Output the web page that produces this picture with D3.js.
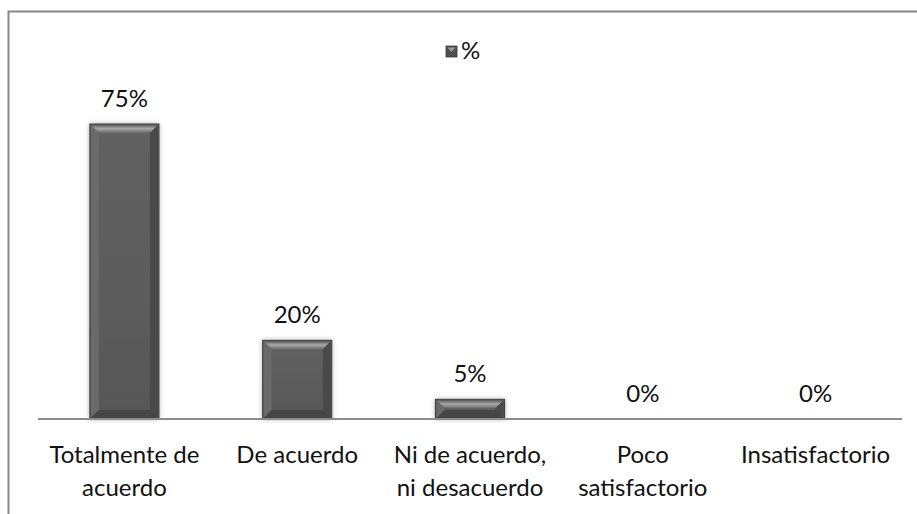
<!DOCTYPE html>
<html>
<head>
<meta charset="utf-8">
<script src="https://cdn.jsdelivr.net/npm/d3@7"></script>
<style>
  html, body { margin: 0; padding: 0; background: #fff; }
  svg { display: block; }
  text { font-family: Lato, "Open Sans", sans-serif; fill: #111; }
</style>
</head>
<body>
<div id="chart"></div>
<script>
// Survey answers and their share of responses
const categories = [
  ["Totalmente de", "acuerdo"],
  ["De acuerdo"],
  ["Ni de acuerdo,", "ni desacuerdo"],
  ["Poco", "satisfactorio"],
  ["Insatisfactorio"]
];
const values = [75, 20, 5, 0, 0];
const seriesName = "%";

const W = 917, H = 514;
const margin = { left: 38, right: 15 };
const baseY = 419;
const fontSize = 24;

const svg = d3.select("#chart").append("svg")
  .attr("width", W).attr("height", H);

const defs = svg.append("defs");
const topGrad = defs.append("linearGradient").attr("id", "bevelTop")
  .attr("x1", 0).attr("y1", 0).attr("x2", 0).attr("y2", 1);
topGrad.append("stop").attr("offset", "0%").attr("stop-color", "#5e5e5e");
topGrad.append("stop").attr("offset", "45%").attr("stop-color", "#a8a8a8");
topGrad.append("stop").attr("offset", "100%").attr("stop-color", "#6a6a6a");
const bodyGrad = defs.append("linearGradient").attr("id", "bodyFill")
  .attr("x1", 0).attr("y1", 0).attr("x2", 0).attr("y2", 1);
bodyGrad.append("stop").attr("offset", "0%").attr("stop-color", "#626262");
bodyGrad.append("stop").attr("offset", "100%").attr("stop-color", "#575757");
const shadow = defs.append("filter").attr("id", "shadow")
  .attr("x", "-20%").attr("y", "-20%").attr("width", "140%").attr("height", "140%");
shadow.append("feGaussianBlur").attr("in", "SourceAlpha").attr("stdDeviation", 2.5).attr("result", "b");
shadow.append("feComponentTransfer").attr("in", "b").attr("result", "s")
  .append("feFuncA").attr("type", "linear").attr("slope", 0.3);
const merge = shadow.append("feMerge");
merge.append("feMergeNode").attr("in", "s");
merge.append("feMergeNode").attr("in", "SourceGraphic");

// Outer chart frame (runs off the right and bottom edges)
svg.append("rect")
  .attr("x", 8.5).attr("y", 11.5)
  .attr("width", W + 20).attr("height", H + 20)
  .attr("fill", "none").attr("stroke", "#888").attr("stroke-width", 2);

const x = d3.scaleBand()
  .domain(d3.range(categories.length))
  .range([margin.left, W - margin.right])
  .paddingInner(0.6).paddingOuter(0.3);

const y = d3.scaleLinear().domain([0, 75]).range([baseY, 124]);

const bevel = 9;
const bars = svg.append("g").selectAll("g.bar")
  .data(values.map((v, i) => ({ v, i })).filter(d => d.v > 0))
  .join("g").attr("class", "bar").attr("filter", "url(#shadow)");

bars.each(function(d) {
  const g = d3.select(this);
  const x0 = x(d.i), w = x.bandwidth();
  const y0 = y(d.v), h = baseY - y0;
  const b = Math.min(bevel, h / 2);
  g.append("rect").attr("x", x0).attr("y", y0).attr("width", w).attr("height", h)
    .attr("fill", "url(#bodyFill)").attr("stroke", "#3c3c3c").attr("stroke-width", 1);
  // top bevel
  g.append("path")
    .attr("d", `M${x0 + 1},${y0 + 1} L${x0 + w - 1},${y0 + 1} L${x0 + w - b},${y0 + b} L${x0 + b},${y0 + b} Z`)
    .attr("fill", "url(#bevelTop)");
  // left and right bevels
  g.append("path")
    .attr("d", `M${x0 + 1},${y0 + 1} L${x0 + b},${y0 + b} L${x0 + b},${baseY - b} L${x0 + 1},${baseY - 1} Z`)
    .attr("fill", "#6a6a6a");
  g.append("path")
    .attr("d", `M${x0 + w - 1},${y0 + 1} L${x0 + w - b},${y0 + b} L${x0 + w - b},${baseY - b} L${x0 + w - 1},${baseY - 1} Z`)
    .attr("fill", "#4a4a4a");
  // bottom bevel
  g.append("path")
    .attr("d", `M${x0 + 1},${baseY - 1} L${x0 + b},${baseY - b} L${x0 + w - b},${baseY - b} L${x0 + w - 1},${baseY - 1} Z`)
    .attr("fill", "#444");
});

// Category axis line
svg.append("line")
  .attr("x1", margin.left).attr("x2", W - margin.right)
  .attr("y1", baseY).attr("y2", baseY)
  .attr("stroke", "#8c8c8c").attr("stroke-width", 2);

// Value labels
svg.append("g").selectAll("text")
  .data(values)
  .join("text")
  .attr("x", (d, i) => x(i) + x.bandwidth() / 2)
  .attr("y", d => y(d) - 17)
  .attr("text-anchor", "middle")
  .attr("font-size", fontSize)
  .text(d => d + "%");

// Category labels
const cat = svg.append("g").selectAll("text")
  .data(categories)
  .join("text")
  .attr("x", (d, i) => x(i) + x.bandwidth() / 2)
  .attr("y", 463)
  .attr("text-anchor", "middle")
  .attr("font-size", fontSize);
cat.selectAll("tspan")
  .data(d => d)
  .join("tspan")
  .attr("x", function() { return d3.select(this.parentNode).attr("x"); })
  .attr("dy", (d, j) => j === 0 ? 0 : 33)
  .text(d => d);

// Legend
const lg = svg.append("g").attr("transform", "translate(446,46)");
lg.append("rect").attr("width", 11).attr("height", 11)
  .attr("fill", "#4f4f4f").attr("stroke", "#3a3a3a").attr("stroke-width", 0.8);
lg.append("path").attr("d", "M1.5,1.5 L9.5,1.5 L5.5,6 Z").attr("fill", "#9a9a9a");
lg.append("text").attr("x", 15).attr("y", 13).attr("font-size", fontSize).text(seriesName);
</script>
</body>
</html>
